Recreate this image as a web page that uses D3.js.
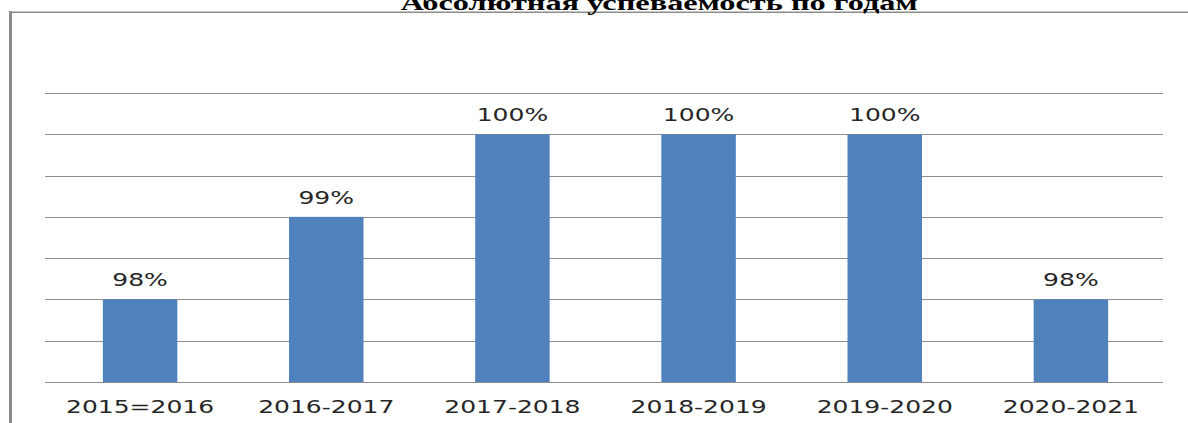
<!DOCTYPE html>
<html>
<head>
<meta charset="utf-8">
<script src="https://cdn.jsdelivr.net/npm/d3@7"></script>
<style>
  html, body { margin: 0; padding: 0; background: #fff; overflow: hidden; }
</style>
</head>
<body>
<div id="chart"></div>
<script>
const title = 'Абсолютная успеваемость по годам';
const years = ['2015=2016', '2016-2017', '2017-2018', '2018-2019', '2019-2020', '2020-2021'];
const values = [98, 99, 100, 100, 100, 98];
const gridTicks = [97, 97.5, 98, 98.5, 99, 99.5, 100, 100.5];

const width = 1188, height = 423;
const margin = { left: 45, right: 25, top: 93, bottom: 41 };
const innerWidth = width - margin.left - margin.right;
const innerHeight = height - margin.top - margin.bottom;
const stretch = 1.47; // text in the picture is drawn wide

// widen a text node horizontally by the stretch factor
function widen(sel) {
  sel.each(function () {
    let w = this.getComputedTextLength();
    d3.select(this)
      .attr('textLength', w * stretch)
      .attr('lengthAdjust', 'spacingAndGlyphs');
  });
}

const svg = d3.select('#chart')
  .append('svg')
  .attr('width', width)
  .attr('height', height);

// frame (left and top edge of the chart box)
svg.append('line')
  .attr('x1', 10.5).attr('x2', 10.5)
  .attr('y1', 11).attr('y2', height)
  .attr('stroke', '#8c8c8c').attr('stroke-width', 3);
svg.append('line')
  .attr('x1', 9).attr('x2', width)
  .attr('y1', 12.2).attr('y2', 12.2)
  .attr('stroke', '#8c8c8c').attr('stroke-width', 1.6);

// title, mostly cut off at the top like in the picture
svg.append('text')
  .attr('x', 659)
  .attr('y', 9.5)
  .attr('text-anchor', 'middle')
  .attr('font-family', '"Liberation Serif", "Times New Roman", serif')
  .attr('font-weight', 'bold')
  .attr('font-size', 22)
  .attr('fill', '#000')
  .text(title)
  .call(widen);

const g = svg.append('g')
  .attr('transform', `translate(${margin.left},${margin.top})`);

const xScale = d3.scaleBand()
  .domain(years)
  .range([2, innerWidth + 1])
  .paddingInner(0.6)
  .paddingOuter(0.3);

const yScale = d3.scaleLinear()
  .domain([97, 100.5])
  .range([innerHeight, 0]);

//gridlines
g.append('g')
  .selectAll('line')
  .data(gridTicks)
  .join('line')
  .attr('x1', 0)
  .attr('x2', innerWidth)
  .attr('y1', d => Math.round(yScale(d)) + 0.5)
  .attr('y2', d => Math.round(yScale(d)) + 0.5)
  .attr('stroke', '#8e8e8e')
  .attr('stroke-width', 1.2);

//bars
g.append('g')
  .selectAll('rect')
  .data(values)
  .join('rect')
  .attr('x', (d, i) => xScale(years[i]))
  .attr('width', xScale.bandwidth())
  .attr('y', d => yScale(d))
  .attr('height', d => innerHeight - yScale(d))
  .attr('fill', '#4f81bd');

//value labels
g.append('g')
  .selectAll('text')
  .data(values)
  .join('text')
  .attr('x', (d, i) => xScale(years[i]) + xScale.bandwidth() / 2)
  .attr('y', d => yScale(d) - 13)
  .attr('text-anchor', 'middle')
  .attr('font-family', '"DejaVu Sans", Verdana, sans-serif')
  .attr('font-size', 17)
  .attr('fill', '#262626')
  .text(d => d + '%')
  .call(widen);

//x axis labels
const xAxis = g.append('g')
  .attr('transform', `translate(0,${innerHeight})`)
  .call(d3.axisBottom(xScale).tickSize(0).tickPadding(0));
xAxis.select('.domain').remove();
xAxis.selectAll('.tick text')
  .attr('y', 31)
  .attr('dy', 0)
  .attr('font-family', '"DejaVu Sans", Verdana, sans-serif')
  .attr('font-size', 17)
  .attr('fill', '#262626')
  .call(widen);
</script>
</body>
</html>
